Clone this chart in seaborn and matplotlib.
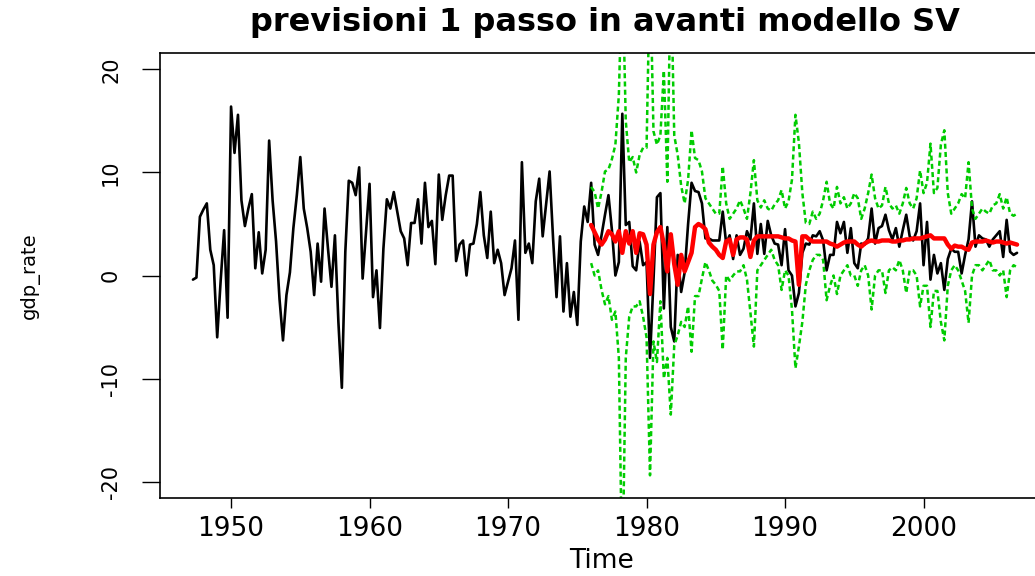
import numpy as np
import pandas as pd
import matplotlib
matplotlib.use("Agg")
import matplotlib.pyplot as plt
import seaborn as sns

# ---------------- data ----------------
start_year = 1947.25   # quarterly series, first observation
freq = 4

gdp_rate = [
    -0.4, -0.2, 5.7, 6.4, 7.0, 2.5, 1.0, -6.0, -0.5, 4.4,
    -4.1, 16.4, 11.9, 15.6, 7.3, 4.8, 6.5, 7.9, 0.7, 4.2,
    0.2, 2.5, 13.1, 7.3, 3.3, -2.3, -6.3, -1.9, 0.3, 4.6,
    7.8, 11.5, 6.5, 4.6, 2.3, -1.9, 3.1, -0.6, 6.5, 2.6,
    -1.1, 3.9, -4.5, -10.9, 2.3, 9.2, 9.0, 7.8, 10.5, -0.3,
    4.3, 8.9, -2.1, 0.5, -5.1, 2.6, 7.4, 6.5, 8.1, 6.2,
    4.3, 3.6, 1.0, 5.1, 5.1, 7.4, 3.1, 9.0, 4.7, 5.3,
    1.1, 9.8, 5.4, 7.8, 9.7, 9.7, 1.4, 3.0, 3.4, 0.0,
    3.0, 3.1, 5.0, 8.1, 3.9, 1.7, 6.2, 1.2, 2.5, 1.2,
    -1.9, -0.6, 0.7, 3.4, -4.3, 11.0, 2.2, 3.1, 1.2, 7.2,
    9.4, 3.8, 7.0, 10.1, 3.6, -2.1, 3.8, -3.5, 1.2, -4.0,
    -1.6, -4.8, 3.3, 6.7, 5.2, 9.0, 3.0, 2.0, 3.9, 5.9,
    7.8, 4.4, 0.0, 1.3, 15.7, 4.9, 5.2, 0.9, 0.5, 3.3,
    1.0, 1.3, -8.0, -0.5, 7.6, 8.0, -3.2, 4.7, -5.0, -6.4,
    2.0, -1.6, 0.3, 5.0, 9.0, 8.2, 8.1, 7.0, 3.6, 3.6,
    3.4, 3.4, 3.4, 6.2, 3.1, 3.9, 1.6, 3.9, 2.0, 2.6,
    4.3, 3.5, 7.0, 2.1, 5.0, 2.1, 5.3, 3.9, 3.1, 3.0,
    1.0, 4.5, 0.5, 0.0, -3.0, -1.7, 2.2, 3.1, 3.0, 3.9,
    3.8, 4.3, 3.4, 0.5, 2.0, 2.0, 5.2, 4.1, 5.2, 2.2,
    4.6, 1.2, 0.7, 3.1, 3.0, 3.6, 6.5, 3.1, 4.6, 4.8,
    5.9, 4.4, 3.5, 4.6, 2.8, 4.4, 5.9, 3.8, 3.4, 4.3,
    7.0, 1.0, 5.2, -0.4, 2.0, 0.2, 1.2, -1.4, 1.6, 2.6,
    2.3, 2.3, 0.2, 2.0, 3.5, 7.2, 2.8, 3.9, 3.6, 3.5,
    2.8, 3.5, 3.9, 4.3, 1.8, 5.4, 2.3, 2.0, 2.2,
]

forecast_start = 1976.0
forecast = [
    4.9, 4.2, 3.5, 3.0, 3.5, 4.3, 4.0, 3.3, 4.3, 2.2,
    4.3, 3.1, 4.3, 2.2, 4.1, 4.0, 3.0, -1.8, 3.0, 4.2,
    4.7, 3.0, 0.4, 4.0, 1.1, -0.9, 2.0, 0.4, 1.3, 2.2,
    4.7, 5.0, 4.8, 4.5, 3.2, 2.8, 2.5, 2.0, 1.7, 3.3,
    3.5, 2.0, 3.5, 3.7, 3.7, 3.5, 1.8, 3.4, 3.8, 3.8,
    3.8, 3.8, 3.8, 3.8, 3.8, 3.7, 3.6, 3.6, 3.4, 3.3,
    -0.9, 3.8, 3.8, 3.5, 3.3, 3.3, 3.3, 3.3, 3.3, 3.1,
    3.0, 2.8, 3.0, 3.2, 3.3, 3.3, 3.3, 3.0, 2.8, 3.1,
    3.3, 3.4, 3.3, 3.3, 3.4, 3.4, 3.4, 3.3, 3.3, 3.4,
    3.4, 3.5, 3.5, 3.6, 3.6, 3.6, 3.7, 3.8, 3.9, 3.6,
    3.6, 3.6, 3.6, 3.0, 2.6, 2.9, 2.8, 2.8, 2.6, 2.5,
    3.2, 3.3, 3.3, 3.3, 3.4, 3.3, 3.2, 3.3, 3.3, 3.2,
    3.1, 3.2, 3.1, 3.0,
]

upper = [
    8.6, 8.1, 6.5, 8.1, 10.1, 10.3, 11.3, 12.7, 17.5, 30.0,
    15.0, 11.0, 11.5, 10.0, 11.7, 12.4, 12.4, 30.0, 14.0, 12.7,
    13.6, 19.9, 9.1, 30.0, 13.6, 11.7, 8.7, 7.0, 9.3, 14.1,
    11.4, 11.2, 10.1, 7.5, 7.0, 6.5, 6.0, 6.0, 10.6, 7.0,
    5.5, 6.0, 6.5, 7.3, 6.5, 5.5, 8.0, 11.2, 7.3, 6.6,
    7.3, 6.5, 6.3, 6.9, 7.3, 8.3, 6.5, 7.2, 9.3, 15.6,
    12.9, 8.0, 5.1, 5.0, 6.2, 5.5, 6.0, 7.3, 9.1, 7.0,
    6.5, 8.6, 7.0, 7.6, 6.5, 7.0, 8.0, 7.5, 5.5, 6.5,
    8.0, 9.8, 7.5, 6.5, 6.8, 8.6, 7.0, 6.5, 6.8, 6.0,
    7.0, 8.5, 7.0, 6.5, 7.5, 10.2, 8.0, 9.0, 12.8, 8.0,
    8.5, 12.7, 14.1, 8.0, 6.0, 6.5, 7.0, 7.9, 7.5, 11.0,
    6.5, 5.5, 6.0, 6.5, 6.2, 6.0, 6.8, 7.0, 7.9, 6.5,
    7.6, 6.0, 5.8, 6.0,
]

lower = [
    1.2, 0.0, 0.5, -1.4, -2.8, -2.0, -4.3, -3.5, -8.0, -30.0,
    -8.0, -4.0, -3.0, -3.0, -2.5, -4.0, -6.0, -19.4, -6.4, -8.4,
    -2.5, -10.0, -8.0, -13.5, -6.8, -5.8, -4.5, -5.0, -3.0, -7.4,
    -2.0, -2.0, -0.3, 1.3, 0.5, -0.5, -0.9, -1.5, -7.2, 0.0,
    -0.5, 0.0, 0.4, 0.4, 1.0, -0.4, -3.6, -6.9, 0.5, 1.0,
    1.5, 2.0, 2.5, 1.5, 1.0, -1.4, 0.5, 0.0, -3.3, -9.0,
    -6.9, -4.5, -0.9, 0.5, 1.5, 2.0, 2.0, 1.5, -2.4, -1.0,
    0.0, -1.8, 0.0, 0.5, 1.0, 0.0, 0.0, -1.0, 0.5, 1.0,
    0.0, -3.3, 0.0, 0.5, 0.5, -1.7, 0.5, 0.8, 0.5, 1.5,
    0.5, -1.7, 0.5, 0.5, 0.0, -3.0, -1.0, -1.0, -5.0, -1.5,
    -1.5, -4.5, -6.3, -1.0, 0.5, 1.0, 0.5, -0.5, -1.5, -4.6,
    0.0, 1.0, 1.0, 0.5, 1.0, 1.5, 0.5, 0.5, 0.0, 0.5,
    -2.1, 0.5, 1.0, 0.8,
]

title = "previsioni 1 passo in avanti modello SV"
x_label = "Time"
y_label = "gdp_rate"
x_ticks = [1950, 1960, 1970, 1980, 1990, 2000]
y_ticks = [-20, -10, 0, 10, 20]

# ---------------- build frames ----------------
time = start_year + np.arange(len(gdp_rate)) / freq
ftime = forecast_start + np.arange(len(forecast)) / freq
obs = pd.DataFrame({"time": time, "value": gdp_rate})
fc = pd.DataFrame({"time": ftime, "mean": forecast, "upper": upper, "lower": lower})

sns.set_theme(style="white")
plt.rcParams["font.family"] = ["DejaVu Sans"]
plt.rcParams["text.color"] = "black"
plt.rcParams["axes.labelcolor"] = "black"
plt.rcParams["xtick.color"] = "black"
plt.rcParams["ytick.color"] = "black"

W, H = 1035, 576
fig = plt.figure(figsize=(W / 100, H / 100), dpi=100)
# plotting region (extends a little past the right edge, as in the reference)
ax = fig.add_axes([160 / W, 78 / H, 890 / W, 445 / H])

green = "#00CC00"
sns.lineplot(data=obs, x="time", y="value", color="black", linewidth=1.9,
             ax=ax, estimator=None, sort=False)
for col in ["upper", "lower"]:
    sns.lineplot(data=fc, x="time", y=col, color=green, linewidth=1.8,
                 ax=ax, estimator=None, sort=False, dashes=False,
                 linestyle=(0, (2.0, 1.3)))
sns.lineplot(data=fc, x="time", y="mean", color="#FF0000", linewidth=3.2,
             ax=ax, estimator=None, sort=False)

ax.set_xlim(1944.87, 2009.13)
ax.set_ylim(-21.6, 21.6)
ax.set_xticks(x_ticks)
ax.set_yticks(y_ticks)
ax.set_xticklabels([str(v) for v in x_ticks], fontsize=19, color="black")
ax.set_yticklabels([str(v) for v in y_ticks], fontsize=15, rotation=90,
                   va="center", color="black")
ax.tick_params(axis="x", direction="out", length=7, width=1, pad=6,
               color="black", bottom=True)
ax.tick_params(axis="y", direction="out", length=13, width=1, pad=15,
               color="black", left=True)
for s in ax.spines.values():
    s.set_visible(True)
    s.set_color("black")
    s.set_linewidth(1.2)

ax.set_xlabel(x_label, fontsize=19, color="black")
ax.xaxis.set_label_coords(0.4966, -0.1416)
ax.xaxis.label.set_verticalalignment("center")

ax.set_ylabel(y_label, fontsize=14, color="black")
ax.yaxis.set_label_coords(-0.146, 0.5)
ax.yaxis.label.set_verticalalignment("center")

ax.set_title(title, fontsize=23, fontweight="bold", color="black",
             y=1 + (53 - 22) / 445, pad=0, va="center")
ax.grid(False)

fig.savefig("out.png", dpi=100)
